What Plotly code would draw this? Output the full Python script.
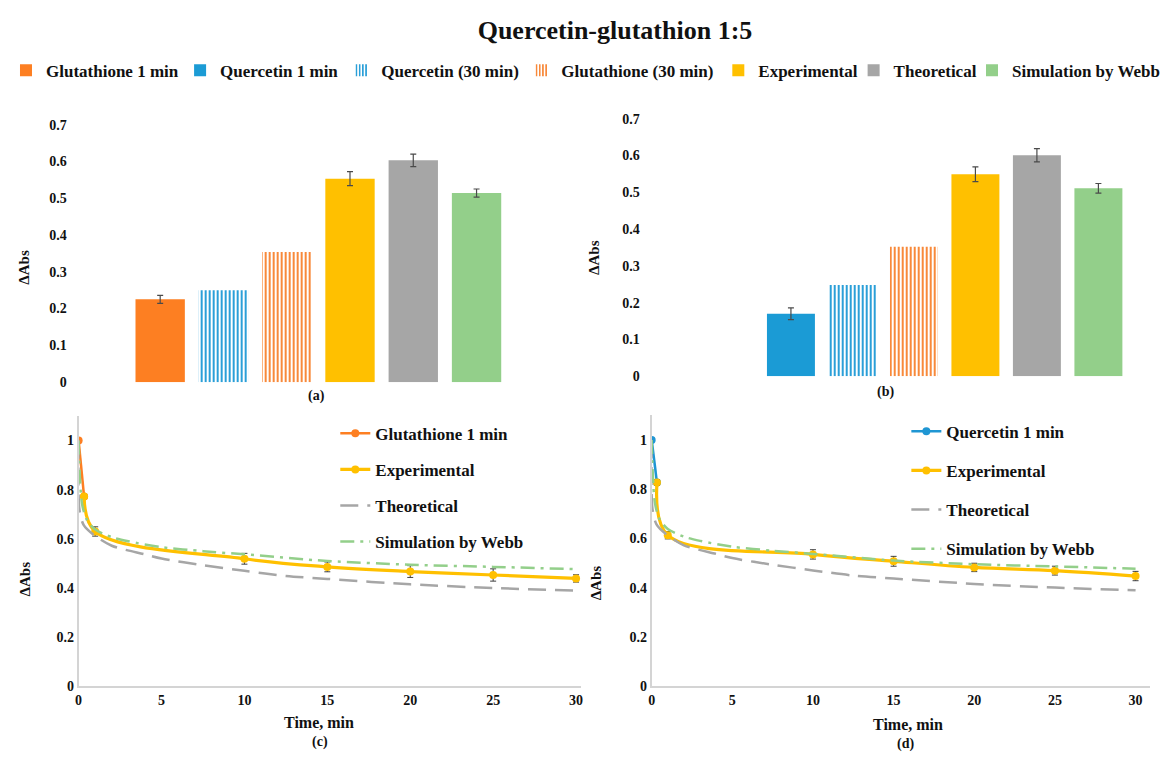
import plotly.graph_objects as go

# ---- bar panels: ΔAbs after 30 min -------------------------------------
a_categories = ["Glutathione 1 min", "Quercetin (30 min)", "Glutathione (30 min)",
                "Experimental", "Theoretical", "Simulation by Webb"]
a_values = [0.225, 0.250, 0.354, 0.553, 0.603, 0.514]
a_errors = [0.011, 0.0, 0.0, 0.019, 0.017, 0.011]

b_categories = ["Quercetin 1 min", "Quercetin (30 min)", "Glutathione (30 min)",
                "Experimental", "Theoretical", "Simulation by Webb"]
b_values = [0.170, 0.248, 0.352, 0.549, 0.601, 0.511]
b_errors = [0.016, 0.0, 0.0, 0.020, 0.018, 0.013]

# ---- kinetic panels -------------------------------------------------------
c_glut_t = [0, 0.33]
c_glut_v = [1.0, 0.772]
c_exp_t = [0.33, 1, 10, 15, 20, 25, 30]
c_exp_v = [0.772, 0.630, 0.519, 0.486, 0.467, 0.453, 0.439]
c_exp_err = [0.008, 0.019, 0.022, 0.020, 0.024, 0.025, 0.015]

d_quer_t = [0, 0.33]
d_quer_v = [1.0, 0.827]
d_exp_t = [0.33, 1, 10, 15, 20, 25, 30]
d_exp_v = [0.827, 0.613, 0.535, 0.507, 0.482, 0.469, 0.447]
d_exp_err = [0.012, 0.015, 0.019, 0.020, 0.017, 0.018, 0.019]

theo_t = [0, 0.05, 0.3, 0.9, 2, 4, 5, 7.5, 10, 12.5, 15, 20, 25, 30]
theo_v = [1.0, 0.72, 0.657, 0.617, 0.572, 0.537, 0.52, 0.493, 0.47, 0.449, 0.437, 0.415, 0.40, 0.389]

webb_t = [0, 0.2, 0.5, 1, 2, 3, 5, 7.5, 10, 15, 20, 25, 30]
webb_v = [1.0, 0.745, 0.677, 0.638, 0.607, 0.59, 0.566, 0.55, 0.537, 0.51, 0.495, 0.486, 0.477]

# ---- styling ----------------------------------------------------------------
W, H = 1169, 760
FONT = "Liberation Serif"
ORANGE = "#fd7f22"
BLUE = "#1b9bd5"
YELLOW = "#ffc000"
GRAY = "#a6a6a6"
GREEN = "#93cf8a"
TXT = "#111111"

def fx(px):
    return px / W

def fy(py):
    return 1 - py / H

bar_style = {
    "Glutathione 1 min": dict(color=ORANGE),
    "Quercetin 1 min": dict(color=BLUE),
    "Quercetin (30 min)": dict(color="white",
                               pattern=dict(shape="|", fgcolor="#2a9fd8", bgcolor="white",
                                            size=4, solidity=0.5, fillmode="replace")),
    "Glutathione (30 min)": dict(color="white",
                                 pattern=dict(shape="|", fgcolor="#f8893a", bgcolor="white",
                                              size=4, solidity=0.5, fillmode="replace")),
    "Experimental": dict(color=YELLOW),
    "Theoretical": dict(color=GRAY),
    "Simulation by Webb": dict(color=GREEN),
}

# one small legend per entry in the top key row (text start in px)
legend_order = ["Glutathione 1 min", "Quercetin 1 min", "Quercetin (30 min)",
                "Glutathione (30 min)", "Experimental", "Theoretical", "Simulation by Webb"]
legend_text_x = [47, 222, 384, 565, 763, 899, 1018]
legend_ids = ["legend"] + ["legend%d" % k for k in range(2, 8)]
legend_of = dict(zip(legend_order, legend_ids))

fig = go.Figure()

def add_bars(cats, vals, errs, xa, ya, shown):
    for c, v, e in zip(cats, vals, errs):
        kw = {}
        if e > 0:
            kw["error_y"] = dict(type="data", array=[e], color="#4a4a4a", thickness=1.2, width=3)
        fig.add_trace(go.Bar(
            x=[c], y=[v], xaxis=xa, yaxis=ya, width=0.78, name=c,
            marker=dict(line=dict(width=0), **bar_style[c]),
            legend=legend_of[c], showlegend=(c in shown), **kw))

add_bars(a_categories, a_values, a_errors, "x", "y",
         {"Glutathione 1 min", "Quercetin (30 min)", "Glutathione (30 min)",
          "Experimental", "Theoretical", "Simulation by Webb"})
add_bars(b_categories, b_values, b_errors, "x2", "y2", {"Quercetin 1 min"})

def add_kinetics(xa, ya, leg, first_name, first_color, first_t, first_v, exp_t, exp_v, exp_err):
    fig.add_trace(go.Scatter(
        x=first_t, y=first_v, xaxis=xa, yaxis=ya, name=first_name, mode="lines+markers",
        line=dict(color=first_color, width=2.5), marker=dict(size=8, color=first_color),
        legend=leg, legendgroup=leg + "1"))
    fig.add_trace(go.Scatter(
        x=exp_t, y=exp_v, xaxis=xa, yaxis=ya, name="Experimental", mode="lines+markers",
        line=dict(color=YELLOW, width=3.2, shape="spline", smoothing=1.0),
        marker=dict(size=8, color=YELLOW),
        error_y=dict(type="data", array=exp_err, color="#404040", thickness=1, width=3),
        legend=leg, legendgroup=leg + "2"))
    fig.add_trace(go.Scatter(
        x=theo_t, y=theo_v, xaxis=xa, yaxis=ya, name="Theoretical", mode="lines",
        line=dict(color=GRAY, width=2.5, dash="18px,9px", shape="spline", smoothing=0.8),
        legend=leg, legendgroup=leg + "3"))
    fig.add_trace(go.Scatter(
        x=webb_t, y=webb_v, xaxis=xa, yaxis=ya, name="Simulation by Webb", mode="lines",
        line=dict(color=GREEN, width=2.5, dash="14px,6px,3px,6px", shape="spline", smoothing=0.8),
        legend=leg, legendgroup=leg + "4"))

add_kinetics("x3", "y3", "legend8", "Glutathione 1 min", ORANGE, c_glut_t, c_glut_v,
             c_exp_t, c_exp_v, c_exp_err)
add_kinetics("x4", "y4", "legend9", "Quercetin 1 min", "#1f96d3", d_quer_t, d_quer_v,
             d_exp_t, d_exp_v, d_exp_err)

tickfont = dict(family=FONT, size=14, color=TXT, weight="bold")
bar_y = dict(range=[0, 0.7], dtick=0.1, showgrid=False, zeroline=False, showline=False,
             ticks="", tickfont=tickfont, fixedrange=True)
bar_x = dict(type="category", showticklabels=False, showgrid=False, zeroline=False,
             showline=False, ticks="")
line_axis = dict(showgrid=False, zeroline=False, showline=True, linecolor="#d4d4d4",
                 linewidth=1.5, ticks="", tickfont=tickfont)

layout = dict(
    width=W, height=H, margin=dict(l=0, r=0, t=0, b=0),
    paper_bgcolor="white", plot_bgcolor="white", barmode="overlay",
    font=dict(family=FONT, color=TXT),
    title=dict(text="<b>Quercetin-glutathion 1:5</b>", x=fx(615), xanchor="center",
               y=fy(30), yanchor="middle", font=dict(family=FONT, size=26, color=TXT)),
    xaxis=dict(bar_x, domain=[fx(64), fx(530)], categoryarray=a_categories,
               categoryorder="array", range=[-1.462, 5.865]),
    yaxis=dict(bar_y, domain=[fy(382.7), fy(120)], anchor="x"),
    xaxis2=dict(bar_x, domain=[fx(640), fx(1160)], categoryarray=b_categories,
                categoryorder="array", range=[-2.443, 5.97], anchor="y2"),
    yaxis2=dict(bar_y, domain=[fy(376.7), fy(114)], anchor="x2"),
    xaxis3=dict(line_axis, domain=[fx(75), fx(580)], range=[0, 30.3], dtick=5, anchor="y3"),
    yaxis3=dict(line_axis, domain=[fy(693), fy(417.2)], range=[0, 1.1], dtick=0.2, anchor="x3"),
    xaxis4=dict(line_axis, domain=[fx(651), fx(1152)], range=[0, 30.9], dtick=5, anchor="y4"),
    yaxis4=dict(line_axis, domain=[fy(692.7), fy(416.6)], range=[0, 1.1], dtick=0.2, anchor="x4"),
)

legend_font = dict(family=FONT, size=17, color=TXT, weight="bold")
for lid, tx in zip(legend_ids, legend_text_x):
    layout[lid] = dict(x=fx(tx - 45), y=fy(65), xanchor="left", yanchor="middle",
                       orientation="h", bgcolor="rgba(0,0,0,0)", font=legend_font,
                       traceorder="normal")
inner_font = dict(family=FONT, size=17, color=TXT, weight="bold")
layout["legend8"] = dict(x=fx(378 - 45), y=fy(417), xanchor="left", yanchor="top",
                         bgcolor="rgba(0,0,0,0)", font=inner_font, tracegroupgap=11,
                         traceorder="grouped")
layout["legend9"] = dict(x=fx(952 - 45), y=fy(415), xanchor="left", yanchor="top",
                         bgcolor="rgba(0,0,0,0)", font=inner_font, tracegroupgap=14,
                         traceorder="grouped")

def label(text, x, y, size=15, angle=0):
    return dict(text="<b>%s</b>" % text, x=fx(x), y=fy(y), xref="paper", yref="paper",
                showarrow=False, xanchor="center", yanchor="middle", textangle=angle,
                font=dict(family=FONT, size=size, color=TXT))

layout["annotations"] = [
    label("(a)", 314, 397, 14), label("(b)", 886, 393, 14),
    label("(c)", 318, 750, 14), label("(d)", 906, 752, 14),
    label("Time, min", 317, 730, 16), label("Time, min", 909, 732, 16),
    label("ΔAbs", 20, 265, 15, -90), label("ΔAbs", 593, 255, 15, -90),
    label("ΔAbs", 22, 583, 15, -90), label("ΔAbs", 595, 587, 15, -90),
]

fig.update_layout(**layout)
fig.write_html("out.html")
